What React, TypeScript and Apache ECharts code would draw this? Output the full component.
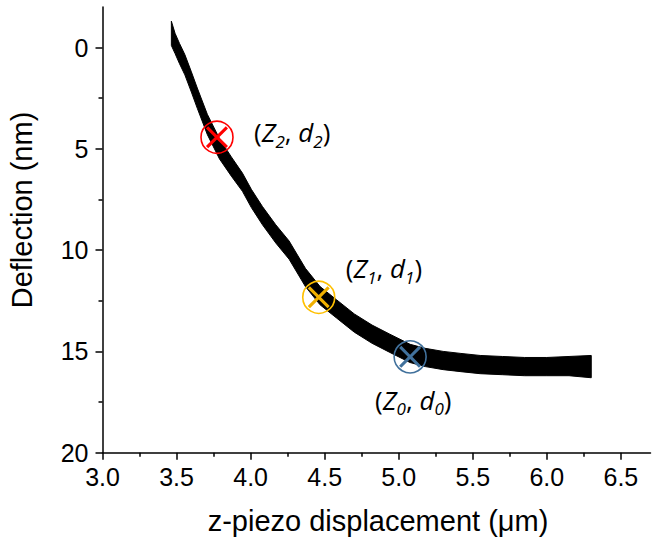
import React, { useEffect, useRef } from 'react';
import * as echarts from 'echarts';

// z-piezo displacement (µm) sampled along the noisy curve
const zPiezo = [3.465, 3.49, 3.52, 3.556, 3.6, 3.64, 3.708, 3.79, 3.87, 3.945, 4.005, 4.08, 4.17, 4.26, 4.37, 4.469, 4.58, 4.7, 4.82, 4.94, 5.077, 5.18, 5.3, 5.42, 5.55, 5.7, 5.85, 6.0, 6.15, 6.3];
// upper edge of the noise band (smaller deflection, nm)
const deflTop = [-1.3, -0.7, -0.2, 0.35, 1.2, 2.0, 3.3, 4.5, 5.4, 6.2, 7.0, 7.85, 8.75, 9.55, 10.9, 11.8, 12.45, 13.15, 13.7, 14.15, 14.65, 14.85, 15.0, 15.1, 15.2, 15.25, 15.3, 15.3, 15.25, 15.2];
// lower edge of the noise band (larger deflection, nm)
const deflBottom = [-0.1, 0.3, 0.8, 1.35, 2.2, 3.0, 4.3, 5.5, 6.35, 7.1, 7.9, 8.75, 9.65, 10.45, 11.8, 12.7, 13.35, 14.05, 14.6, 15.05, 15.55, 15.75, 15.9, 16.0, 16.1, 16.15, 16.2, 16.2, 16.2, 16.3];

// marked points (Z_i, d_i)
const markerZ = [3.773, 4.46, 5.077];
const markerD = [4.43, 12.33, 15.27];
const markerSub = ['2', '1', '0'];
const markerCircleColor = ['#ff0000', '#ffc000', '#41719c'];
const markerCrossColor = ['#ff0000', '#f0b000', '#41719c'];

const xTicks = [3.0, 3.5, 4.0, 4.5, 5.0, 5.5, 6.0, 6.5];
const xMinorTicks = [3.25, 3.75, 4.25, 4.75, 5.25, 5.75, 6.25];
const yTicks = [0, 5, 10, 15, 20];
const yMinorTicks = [2.5, 7.5, 12.5, 17.5];

const xTitle = 'z-piezo displacement (\u03bcm)';
const yTitle = 'Deflection (nm)';

const CROSS = 'path://M0,2L2,0L10,8L18,0L20,2L12,10L20,18L18,20L10,12L2,20L0,18L8,10Z';

export default function App() {
  const ref = useRef<HTMLDivElement>(null);
  useEffect(() => {
    const chart = echarts.init(ref.current!, null, { renderer: 'svg' });
    const axisLineStyle = { color: '#000', width: 1.5 };
    const labelFont = { fontSize: 25, fontFamily: 'Liberation Sans, Arial, sans-serif', color: '#000' };
    const labelOffsets: [number, number][] = [[37, -5], [27, -29], [-35, 43]];
    const fam = 'Open Sans';
    const noBorder = { textBorderWidth: 0, textBorderColor: 'transparent', textShadowBlur: 0 };
    const rich = {
      p: { fontSize: 26, fontFamily: fam, color: '#000', ...noBorder },
      i: { fontSize: 26, fontFamily: fam, fontStyle: 'italic', color: '#000', ...noBorder },
      s: { fontSize: 17, fontFamily: fam, fontStyle: 'italic', color: '#000', verticalAlign: 'bottom', padding: [18, 0, 0, 0], ...noBorder },
    };
    const option: any = {
      animation: false,
      backgroundColor: '#fff',
      grid: { left: 102.5, right: 2.5, top: 7, bottom: 91.3, containLabel: false, outerBoundsMode: 'none' },
      xAxis: [
        {
          type: 'value', min: 3, max: 6.7, position: 'bottom',
          axisLine: { show: true, onZero: false, lineStyle: axisLineStyle },
          axisTick: { show: true, customValues: xTicks, length: 7, lineStyle: axisLineStyle },
          axisLabel: { customValues: xTicks, formatter: (v: number) => v.toFixed(1), margin: 12, ...labelFont },
          splitLine: { show: false },
        },
        {
          type: 'value', min: 3, max: 6.7, position: 'bottom',
          axisLine: { show: false, onZero: false },
          axisTick: { show: true, customValues: xMinorTicks, length: 4, lineStyle: axisLineStyle },
          axisLabel: { show: false },
          splitLine: { show: false },
        },
      ],
      yAxis: [
        {
          type: 'value', min: -2, max: 20, inverse: true, position: 'left',
          axisLine: { show: true, onZero: false, lineStyle: axisLineStyle },
          axisTick: { show: true, customValues: yTicks, length: 7, lineStyle: axisLineStyle },
          axisLabel: { customValues: yTicks, margin: 14, ...labelFont },
          splitLine: { show: false },
        },
        {
          type: 'value', min: -2, max: 20, inverse: true, position: 'left',
          axisLine: { show: false, onZero: false },
          axisTick: { show: true, customValues: yMinorTicks, length: 4, lineStyle: axisLineStyle },
          axisLabel: { show: false },
          splitLine: { show: false },
        },
      ],
      series: [
        {
          type: 'custom', coordinateSystem: 'cartesian2d', silent: true, z: 2,
          data: [[zPiezo[0], deflTop[0]]],
          renderItem: (params: any, api: any) => {
            const upper = zPiezo.map((z, i) => api.coord([z, deflTop[i]]));
            const lower = zPiezo.map((z, i) => api.coord([z, deflBottom[i]])).reverse();
            return {
              type: 'polygon',
              shape: { points: upper.concat(lower) },
              style: { fill: '#000', stroke: '#000', lineWidth: 1 },
            };
          },
        },
        {
          type: 'scatter', symbol: 'circle', symbolSize: 32, z: 5,
          itemStyle: { opacity: 1 },
          data: markerZ.map((z, i) => ({
            value: [z, markerD[i]],
            itemStyle: { color: 'rgba(0,0,0,0)', borderColor: markerCircleColor[i], borderWidth: 1.6, opacity: 1 },
          })),
        },
        {
          type: 'scatter', symbol: CROSS, symbolSize: 22, z: 6,
          itemStyle: { opacity: 1 },
          data: markerZ.map((z, i) => ({
            value: [z, markerD[i]],
            itemStyle: { color: markerCrossColor[i], opacity: 1 },
            label: {
              show: true, position: 'inside', align: 'left', verticalAlign: 'middle',
              offset: labelOffsets[i], color: '#000', opacity: 1, ...noBorder,
              formatter: `{p|(}{i|Z}{s|${markerSub[i]}}{p|, }{i|d}{s|${markerSub[i]}}{p|)}`,
              rich,
            },
          })),
        },
      ],
      graphic: [
        {
          type: 'text', x: 378, y: 521,
          style: { text: xTitle, fontSize: 29, fontFamily: 'Liberation Sans, Arial, sans-serif', fill: '#000', textAlign: 'center', textVerticalAlign: 'middle' },
        },
        {
          type: 'text', x: 22, y: 210, rotation: Math.PI / 2,
          style: { text: yTitle, fontSize: 29, fontFamily: 'Liberation Sans, Arial, sans-serif', fill: '#000', textAlign: 'center', textVerticalAlign: 'middle' },
        },
      ],
    };
    chart.setOption(option);
    return () => chart.dispose();
  }, []);
  return <div ref={ref} style={{ position: 'fixed', left: 0, top: 0, width: 653, height: 544 }} />;
}
